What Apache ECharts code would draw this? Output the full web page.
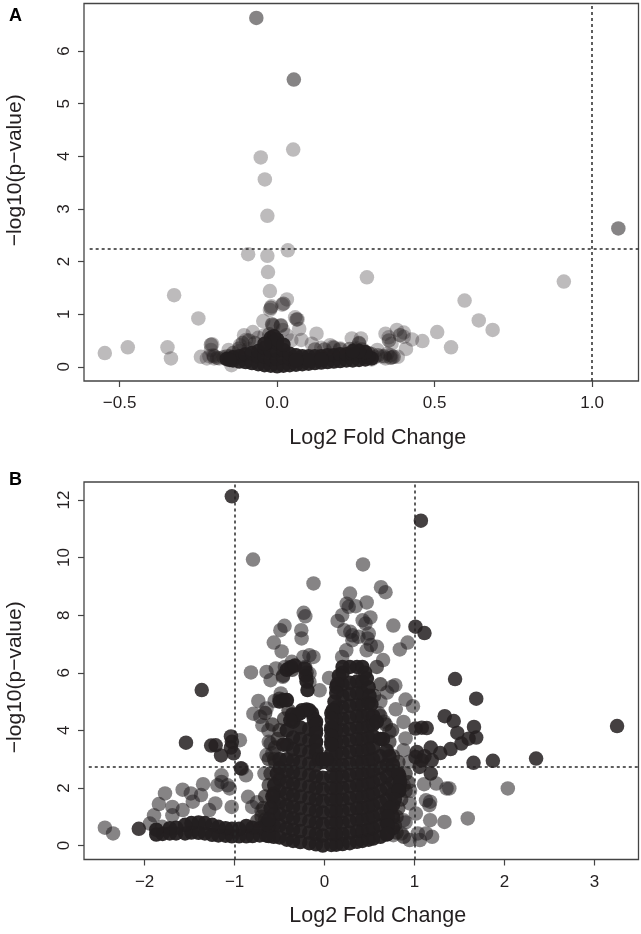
<!DOCTYPE html>
<html><head><meta charset="utf-8">
<style>html,body{margin:0;padding:0;background:#fff}#c{width:641px;height:934px}</style>
<script src="https://cdn.jsdelivr.net/npm/echarts@6/dist/echarts.min.js"></script>
</head><body><div id="c"></div>
<script>
const xTitle = 'Log2 Fold Change';
const yTitle = '\u2212log10(p\u2212value)';
const aXTicks = [-0.5, 0, 0.5, 1];
const aXLabels = ['\u22120.5', '0.0', '0.5', '1.0'];
const aYTicks = [0, 1, 2, 3, 4, 5, 6];
const bXTicks = [-2, -1, 0, 1, 2, 3];
const bXLabels = ['\u22122', '\u22121', '0', '1', '2', '3'];
const bYTicks = [0, 2, 4, 6, 8, 10, 12];

const aSignificant = [[-0.066,6.63],[0.053,5.46],[1.083,2.63]];
const aOther = [
[0.051,4.13],[-0.052,3.98],[-0.039,3.56],[-0.031,2.87],[0.034,2.215],[-0.092,2.14],[-0.031,2.11],[-0.029,1.80],[-0.023,1.44],
[0.285,1.70],[0.91,1.62],[-0.327,1.36],[-0.25,0.92],[0.595,1.26],[0.64,0.88],[0.684,0.70],[0.508,0.66],[0.552,0.37],[0.461,0.49],
[-0.547,0.26],[-0.474,0.37],[-0.348,0.37],[-0.337,0.16],[0.031,1.28],[0.016,1.18],[-0.018,1.15],[-0.023,1.08],[-0.044,0.87],
[0.057,0.94],[0.065,0.90],[0.07,0.72],[-0.016,0.81],[-0.012,0.78],[0.012,0.79],[0.018,0.70],[0.125,0.63],[0.077,0.51],[0.11,0.44],
[0.168,0.41],[0.177,0.38],[0.237,0.54],[0.266,0.54],[0.26,0.44],[0.344,0.63],[0.354,0.56],[0.363,0.44],[0.38,0.70],[0.402,0.65],
[0.402,0.57],[0.428,0.52],[0.409,0.34],[0.383,0.19],[0.344,0.16],[0.30,0.14],[0.318,0.32],[-0.105,0.60],[-0.077,0.66],[-0.099,0.51],
[-0.118,0.41],[-0.206,0.43],[-0.21,0.32],[-0.242,0.19],[-0.223,0.16],[-0.203,0.22],[-0.184,0.16],[-0.145,0.03],[-0.154,0.32],
[-0.138,0.19],[-0.06,0.55],[-0.04,0.6],[0.03,0.6],[0.045,0.5],[0.14,0.36],[0.2,0.35],[0.25,0.36],[0.35,0.25],[0.33,0.2],
[-0.215,0.2],[-0.2,0.16],[-0.16,0.2],[-0.16,0.14],[0.29,0.2],[0.31,0.18],[0.365,0.18],[0.36,0.22],[-0.12,0.3],[-0.09,0.35]
];
const aHalo = [
[-0.015,0.8],[0.012,0.78],[0.062,0.9],[-0.025,0.62],[-0.02,1.12],[0.02,1.2],[-0.2,0.2],[-0.19,0.17],[-0.17,0.18],[-0.15,0.2],[-0.14,0.26],
[-0.12,0.35],[-0.11,0.45],[-0.09,0.5],[-0.07,0.45],[0.12,0.33],[0.15,0.33],[0.18,0.36],[0.2,0.33],[0.23,0.34],[0.25,0.33],[0.27,0.33],
[0.29,0.26],[0.3,0.24],[0.32,0.22],[0.34,0.2],[0.36,0.17],[0.37,0.19],[0.355,0.5],[0.39,0.6],[-0.21,0.42],[0.26,0.45]
];
const aDense = [
[-0.14,0.12],[-0.14,0.18],[-0.12,0.1],[-0.12,0.2],[-0.1,0.09],[-0.1,0.24],[-0.08,0.07],[-0.08,0.26],[-0.06,0.05],[-0.06,0.2],[-0.06,0.3],
[-0.04,0.03],[-0.04,0.2],[-0.04,0.36],[-0.02,0.02],[-0.02,0.14],[-0.02,0.3],[-0.02,0.46],[0,0.01],[0,0.15],[0,0.3],[0,0.45],
[0.02,0.02],[0.02,0.18],[0.02,0.32],[0.04,0.03],[0.04,0.15],[0.04,0.25],[0.06,0.04],[0.06,0.22],[0.08,0.05],[0.08,0.2],[0.1,0.06],[0.1,0.2],
[0.12,0.07],[0.12,0.2],[0.14,0.08],[0.14,0.2],[0.16,0.09],[0.16,0.22],[0.18,0.1],[0.18,0.22],[0.2,0.11],[0.2,0.24],[0.22,0.12],[0.22,0.24],
[0.24,0.12],[0.24,0.24],[0.26,0.13],[0.26,0.22],[0.28,0.14],[0.28,0.2],
[-0.02,0.55],[-0.01,0.58],[0,0.52],[-0.16,0.15],[-0.15,0.13],[0.3,0.16],[0.29,0.18],[0.28,0.28],[0.26,0.3],[0.24,0.3],[0.1,0.12],[0.14,0.14],[0.06,0.12],[0.02,0.42],[-0.04,0.44]
];

const bSignificant = [
[-1.03,12.13],[1.07,11.28],[1.01,7.6],[1.11,7.38],[1.45,5.78],[1.685,5.1],[-1.365,5.4],[-1.54,3.57],[3.25,4.15],[2.35,3.02],[1.87,2.94],[1.655,2.87],
[1.335,4.49],[1.435,4.32],[1.66,4.12],[1.475,3.91],[1.685,3.75],[1.6,3.71],[1.52,3.54],[1.4,3.35],[1.135,4.08],[1.08,4.09],[1.01,4.06],
[1.18,3.4],[1.285,3.21],[1.025,3.25],[1.18,2.5],[1.19,2.96],[1.08,2.96],[1.055,2.73],[1.01,3.07],[1.11,3.1],
[-1.26,3.47],[-1.21,3.48],[-1.15,3.13],[-1.04,3.79],[-1.03,3.6],[-1.04,3.4],[-1.01,3.2],[-0.93,2.68],[-2.064,0.58]
];
const bOther = [
[-0.795,9.93],[0.427,9.76],[-0.123,9.10],[0.627,8.97],[0.677,8.80],[0.282,8.75],[0.468,8.44],[0.245,8.40],[0.345,8.31],[0.268,8.29],
[-0.232,8.08],[-0.214,7.96],[0.145,7.80],[0.195,8.0],[0.509,7.92],[0.423,7.82],[0.455,7.71],[0.764,7.64],[-0.445,7.63],[-0.491,7.48],
[-0.259,7.48],[-0.255,7.19],[0.218,7.48],[0.286,7.42],[0.309,7.30],[0.309,7.13],[0.377,7.25],[0.491,7.36],[0.477,7.19],[0.923,7.05],
[0.836,6.81],[-0.564,7.05],[-0.477,6.74],[0.514,6.96],[0.582,6.90],[0.468,6.78],[0.65,6.44],[0.241,6.78],[0.195,6.55],[-0.818,6.01],
[-0.645,6.03],[-0.541,6.15],[-0.441,6.20],[-0.364,6.38],[-0.395,6.15],[-0.6,5.74],[-0.464,5.86],[-0.236,6.55],[-0.168,6.61],[-0.123,6.55],
[-0.214,6.20],[-0.168,5.97],[-0.168,5.68],[-0.055,5.39],[0.05,5.82],[0.786,5.57],[0.75,5.51],[0.695,5.31],[0.9,5.07],[0.982,4.84],
[0.791,4.73],[0.877,4.29],[0.9,3.72],[0.877,3.31],[0.945,2.91],[-0.736,5.02],[-0.791,4.58],[-0.645,4.76],[-0.714,4.47],[-0.691,4.18],
[-0.623,4.0],[-0.6,3.54],[-0.645,3.14],[-0.486,5.28],[-0.555,5.02],[-0.418,5.05],[-0.364,4.47],[-0.668,2.5],[-0.873,2.44],[-0.918,2.67],[-0.941,3.66],
[0.6,4.6],[0.66,4.3],[0.72,3.95],[0.62,5.0],[-0.62,3.6],[-0.58,3.2],[-0.55,2.9],
[-1.773,1.81],[-1.841,1.44],[-1.577,1.94],[-1.35,2.13],[-1.486,1.81],[-1.373,1.75],[-1.691,1.34],[-1.577,1.23],[-1.464,1.52],[-1.895,1.05],
[-2.441,0.62],[-2.35,0.42],[-1.941,0.76],[-1.805,0.65],[-1.691,1.05],[-1.145,2.44],[-1.191,2.09],[-1.077,2.09],[-1.214,1.46],[-1.032,1.34],
[-1.282,1.23],[-0.85,1.69],[-0.805,1.34],[-1.055,1.98],[-1.145,2.21],[-0.75,1.5],[-0.7,1.2],
[1.105,2.13],[1.241,2.15],[1.355,1.98],[1.386,1.98],[2.036,1.98],[1.591,0.94],[1.332,0.82],[1.127,1.57],[1.173,1.52],[1.164,1.40],[1.173,0.88],
[1.127,0.42],[1.195,0.30],[1.059,0.19],[0.945,0.19],[1.014,1.11],[0.945,1.46],[1.036,0.42],[0.877,0.88],[0.855,0.42],[0.764,0.36],[0.9,0.8],[0.95,1.9],[0.88,2.1]
];
const bHalo = [
[0.9,2.5],[0.93,2.2],[0.9,1.9],[0.85,1.6],[0.82,1.3],[0.8,1.0],[0.78,0.7],[0.8,0.45],[0.88,0.3],[0.72,3.6],[0.76,3.1],[0.82,2.9],[0.75,4.0],[0.68,4.2],[0.62,4.5],
[-0.66,0.9],[-0.68,1.3],[-0.66,1.7],[-0.62,2.1],[-0.6,2.5],[-0.56,3.0],[-0.55,3.4],[-0.52,3.7],[-0.5,4.0],[-0.45,4.4],[-0.4,4.7],[-0.75,0.85],[-0.7,1.0],
[-0.62,3.0],[-0.58,4.2],[-0.66,4.6],[-0.5,5.1],[-0.46,5.9],[-0.36,6.1],[-0.2,6.0],[0.55,5.2],[0.58,6.2],[0.62,5.6]
];
const bDenseColumns = [
[-0.565,[0.3,0.7,1.1,1.5,1.8]],
[-0.5,[0.28,0.7,1.1,1.5,1.9,2.3,2.7]],
[-0.42,[0.2,0.6,1,1.4,1.8,2.2,2.6,3,3.5]],
[-0.35,[0.16,0.55,0.95,1.35,1.75,2.15,2.55,2.95,3.35,3.75,4.3]],
[-0.27,[0.12,0.5,0.9,1.3,1.7,2.1,2.5,2.9,3.3,3.7,4.1,4.6]],
[-0.17,[0.08,0.45,0.85,1.25,1.65,2.05,2.45,2.85,3.25,3.65,4.05,4.7]],
[-0.095,[0.04,0.4,0.8,1.2,1.6,2,2.4,2.8,3.2,3.6,4,4.3]],
[-0.02,[0,0.35,0.75,1.15,1.55,1.95,2.35,2.9]],
[0.075,[0.02,0.4,0.8,1.2,1.6,2,2.4,2.8,3.2,3.6,4,4.6]],
[0.13,[0.03,0.4,0.8,1.2,1.6,2,2.4,2.8,3.2,3.6,4,4.4,4.8,5.5]],
[0.2,[0.05,0.4,0.8,1.2,1.6,2,2.4,2.8,3.2,3.6,4,4.4,4.8,5.2,5.6,6]],
[0.28,[0.08,0.45,0.85,1.25,1.65,2.05,2.45,2.85,3.25,3.65,4.05,4.45,4.85,5.25,5.65,6.2]],
[0.36,[0.13,0.5,0.9,1.3,1.7,2.1,2.5,2.9,3.3,3.7,4.1,4.5,4.9,5.3,5.7,6.2]],
[0.42,[0.16,0.5,0.9,1.3,1.7,2.1,2.5,2.9,3.3,3.7,4.1,4.5,4.9,5.3,5.7,6.2]],
[0.49,[0.2,0.55,0.95,1.35,1.75,2.15,2.55,2.95,3.35,3.75,4.15,4.55,4.95,5.5]],
[0.54,[0.24,0.6,1,1.4,1.8,2.2,2.6,3,3.4,3.8,4.2,4.5]],
[0.62,[0.3,0.7,1.1,1.5,1.9,2.3,2.7,3.1,3.7]],
[0.69,[0.38,0.8,1.2,1.6,2,2.4,2.8,3.3]],
[0.76,[0.6,1,1.4,1.8,2.2,2.6]],
[0.83,[1.9,2.1,2.4]]
];
const bDenseExtra = [
[-0.37,6.2],[-0.42,6.1],[-0.33,6.25],[-0.21,5.9],[-0.19,5.4],[-0.2,5.7],[-0.22,6.15],[-0.5,5.0],[-0.46,5.05],[-0.42,5.05],[-0.36,4.55],
[-0.65,0.35],[-0.72,0.35],[-0.72,0.6],[-0.8,0.33],[-0.8,0.62],[-0.87,0.32],[-0.87,0.68],[-0.95,0.32],[-0.95,0.58],[-1.03,0.32],[-1.03,0.58],
[-1.1,0.34],[-1.1,0.6],[-1.18,0.35],[-1.18,0.65],[-1.25,0.37],[-1.25,0.72],[-1.33,0.42],[-1.33,0.78],[-1.4,0.44],[-1.4,0.8],[-1.48,0.45],[-1.48,0.78],
[-1.55,0.42],[-1.55,0.72],[-1.65,0.42],[-1.65,0.62],[-1.72,0.42],[-1.72,0.6],[-1.8,0.4],[-1.87,0.38],[-1.87,0.55],[-0.62,0.33],[-0.62,0.7],[-0.65,0.75]
];
const bRightEdge = [[0.45,6.0],[0.47,5.8],[0.5,5.2],[0.52,4.9],[0.58,4.3],[0.65,3.7],[0.72,3.1],[0.76,2.8],[0.82,2.5],[0.84,2.2],[0.82,1.9],[0.78,1.6],[0.73,1.3],[0.7,1],[0.7,0.7],[0.7,0.4]];
const bInnerEdge = [[0.2,6.2],[0.16,5.9],[0.14,5.6],[0.13,5.3],[0.11,5],[0.09,4.7],[0.08,4.4],[0.075,4.1],[0.075,3.8],[0.075,3.5],[-0.14,4.6],[-0.12,4.4],[-0.1,4.2],[-0.095,3.9],[-0.095,3.6],[-0.09,3.3],[-0.06,3],[-0.02,3],[0.02,3]];
const bLeftEdge = [[-0.2,4.72],[-0.25,4.7],[-0.3,4.55],[-0.38,4.35],[-0.42,4],[-0.46,3.5],[-0.5,3],[-0.53,2.5],[-0.56,2.1],[-0.58,1.7],[-0.6,1.3],[-0.62,0.9]];

const bDense = [];
for (const col of bDenseColumns) for (const y of col[1]) bDense.push([col[0], y]);
for (const list of [bDenseExtra, bRightEdge, bInnerEdge, bLeftEdge]) for (const p of list) bDense.push(p);

const aVLines = [1], aHLine = 2.24;
const bVLines = [-1, 1], bHLine = 2.73;

const INK = '#231f20';
const FONT = '"Liberation Sans", Arial, sans-serif';

function guide(vs, h, x0, x1) {
  const d = vs.map(v => ({ xAxis: v }));
  d.push([{ coord: [x0, h] }, { coord: [x1, h] }]);
  return {
    silent: true, symbol: 'none', animation: false,
    label: { show: false },
    lineStyle: { color: '#2a2a2a', width: 1.5, type: [3, 3], opacity: 1 },
    data: d
  };
}
function scatter(i, data, opacity, z, extra) {
  return Object.assign({
    type: 'scatter', xAxisIndex: i, yAxisIndex: i, data, symbolSize: 14.5, z,
    itemStyle: { color: INK, opacity }, animation: false, emphasis: { disabled: true }
  }, extra || {});
}
const tickStyle = { show: true, length: 6, lineStyle: { color: '#444', width: 1.2 }, inside: false };

function xAxis(i, min, max, ticks, labels) {
  return {
    gridIndex: i, type: 'value', min, max, scale: true, position: 'bottom',
    axisLine: { show: false, onZero: false }, splitLine: { show: false },
    axisTick: Object.assign({ customValues: ticks }, tickStyle),
    axisLabel: {
      customValues: ticks, margin: 14, fontFamily: FONT, fontSize: 17, color: INK,
      formatter: v => { const k = ticks.findIndex(t => Math.abs(t - v) < 1e-9); return k >= 0 ? labels[k] : ''; }
    },
    name: xTitle, nameLocation: 'middle', nameGap: 46,
    nameTextStyle: { fontFamily: FONT, fontSize: 21.5, color: INK, padding: [0, 0, 0, 33] }
  };
}
function yAxis(i, min, max, ticks, pad) {
  return {
    gridIndex: i, type: 'value', min, max, scale: true, position: 'left',
    axisLine: { show: false, onZero: false }, splitLine: { show: false },
    axisTick: Object.assign({ customValues: ticks }, tickStyle),
    axisLabel: {
      customValues: ticks, margin: 20, rotate: 90, fontFamily: FONT, fontSize: 17, color: INK,
      verticalAlign: 'middle', align: 'center'
    },
    name: yTitle, nameLocation: 'middle', nameGap: 58, nameRotate: 90,
    nameTextStyle: { fontFamily: FONT, fontSize: 21, color: INK, padding: pad }
  };
}

const option = {
  backgroundColor: '#fff', animation: false,
  title: [
    { text: 'A', left: 4, top: 2, textStyle: { fontFamily: FONT, fontSize: 18, fontWeight: 'bold', color: '#000' } },
    { text: 'B', left: 4, top: 466, textStyle: { fontFamily: FONT, fontSize: 18, fontWeight: 'bold', color: '#000' } }
  ],
  grid: [
    { left: 84, top: 3.5, width: 554.5, height: 377.5, outerBoundsMode: 'none', show: true, borderColor: '#444', borderWidth: 1.3, backgroundColor: 'transparent' },
    { left: 84, top: 482, width: 554.5, height: 377.5, outerBoundsMode: 'none', show: true, borderColor: '#444', borderWidth: 1.3, backgroundColor: 'transparent' }
  ],
  xAxis: [xAxis(0, -0.613, 1.147, aXTicks, aXLabels), xAxis(1, -2.673, 3.488, bXTicks, bXLabels)],
  yAxis: [yAxis(0, -0.27, 6.905, aYTicks, [0, 0, 0, 44]), yAxis(1, -0.486, 12.625, bYTicks, [0, 13, 0, 0])],
  series: [
    scatter(0, aOther, 0.3, 2),
    scatter(0, aHalo, 0.45, 3),
    scatter(0, aDense, 0.95, 4),
    scatter(0, aSignificant, 0.55, 5, { markLine: guide(aVLines, aHLine, -0.595, 1.147) }),
    scatter(1, bOther, 0.55, 2),
    scatter(1, bHalo, 0.7, 3),
    scatter(1, bDense, 0.95, 4),
    scatter(1, bSignificant, 0.85, 5, { markLine: guide(bVLines, bHLine, -2.62, 3.488) })
  ]
};
echarts.init(document.getElementById('c'), null, { renderer: 'canvas' }).setOption(option);
</script></body></html>
